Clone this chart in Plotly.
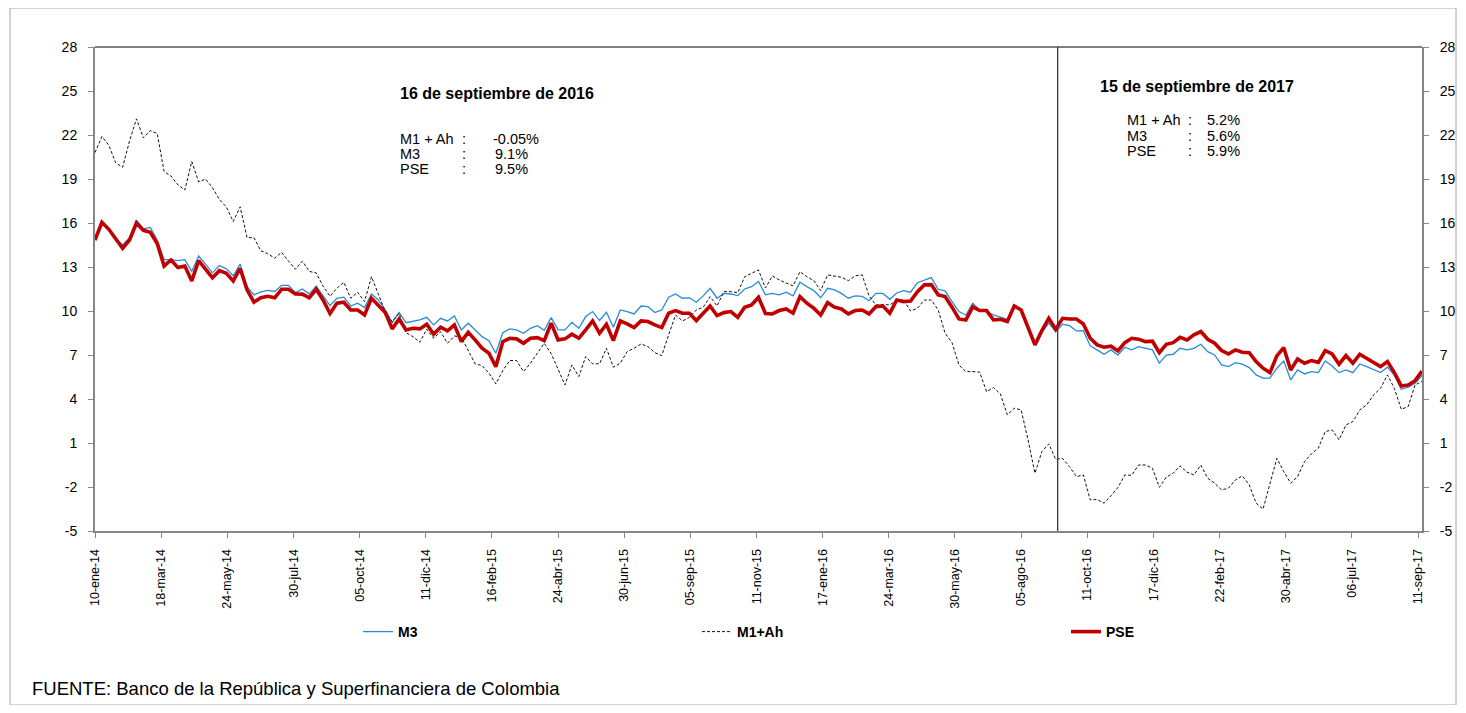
import pandas as pd
import plotly.graph_objects as go

# weekly observations, Fridays from 10-ene-2014 to 15-sep-2017
START = "2014-01-10"
END = "2017-09-15"
N_WEEKS = 193

M3 = [
    14.84, 16.0, 15.5, 14.9, 14.5, 15.0, 16.2, 15.6, 15.7, 14.84,
    13.5, 13.5, 13.43, 13.5, 12.7, 13.75, 13.2, 12.6, 13.1, 12.87,
    12.4, 13.2, 11.66, 11.1, 11.3, 11.4, 11.33, 11.75, 11.75, 11.25,
    11.5, 11.15, 11.7, 11.0, 10.37, 10.87, 10.94, 10.34, 10.53, 10.23,
    11.16, 10.75, 10.07, 9.2, 9.91, 9.2, 9.32, 9.39, 9.57, 9.05,
    9.5, 9.32, 9.66, 8.71, 9.17, 8.71, 8.25, 7.98, 7.12, 8.52,
    8.78, 8.71, 8.48, 8.82, 9.0, 8.68, 9.55, 8.71, 8.71, 9.23,
    8.82, 9.62, 9.96, 9.35, 9.91, 8.89, 10.07, 9.96, 9.8, 10.34,
    10.3, 9.89, 10.07, 10.94, 11.16, 10.87, 10.9, 10.6, 11.03, 11.55,
    10.87, 11.2, 11.16, 11.05, 11.5, 11.66, 12.02, 11.1, 11.2, 11.1,
    11.28, 11.03, 11.96, 11.66, 11.39, 10.9, 11.55, 11.44, 11.2, 10.87,
    11.03, 11.0, 10.7, 11.2, 11.2, 10.8, 11.23, 11.39, 11.28, 11.93,
    12.12, 12.28, 11.48, 11.37, 10.64, 9.96, 9.73, 10.53, 10.07, 9.98,
    9.73, 9.57, 9.43, 10.3, 10.03, 8.94, 7.8, 8.53, 9.17, 8.59,
    9.1, 9.0, 8.64, 8.66, 7.62, 7.35, 7.05, 7.35, 7.0, 7.53,
    7.35, 7.57, 7.46, 7.35, 6.44, 7.0, 7.05, 7.46, 7.35, 7.45,
    7.73, 7.23, 7.0, 6.32, 6.21, 6.48, 6.37, 6.14, 5.64, 5.42,
    5.42, 6.1, 6.6, 5.3, 5.98, 5.71, 5.87, 5.8, 6.6, 6.25,
    5.8, 5.98, 5.8, 6.39, 6.21, 6.03, 5.8, 6.17, 5.64, 4.66,
    4.8, 5.07, 5.6,
]

M1_AH = [
    20.8, 21.9, 21.3, 20.1, 19.8, 21.6, 23.1, 21.8, 22.3, 22.1,
    19.5, 19.2, 18.6, 18.25, 20.2, 18.8, 19.0, 18.4, 17.6, 17.1,
    16.1, 17.1, 15.0, 15.0, 14.1, 13.9, 13.6, 14.0, 13.4, 12.85,
    13.4, 12.7, 12.6, 11.7, 11.0, 11.55, 11.96, 10.87, 11.28, 10.64,
    12.34, 11.1, 9.96, 9.28, 9.85, 8.52, 8.25, 7.87, 8.76, 8.14,
    8.59, 7.8, 8.3, 8.21, 7.35, 6.4, 6.28, 5.76, 5.03, 5.94,
    6.62, 6.62, 5.87, 6.44, 7.12, 7.8, 7.1, 6.0, 4.96, 6.32,
    5.53, 6.89, 6.4, 6.4, 7.46, 6.17, 6.44, 7.23, 7.46, 7.75,
    7.57, 7.16, 6.96, 8.37, 9.73, 9.32, 9.57, 10.07, 10.26, 10.98,
    10.34, 11.32, 11.32, 11.25, 12.34, 12.57, 12.8, 11.57, 12.39, 12.12,
    11.93, 11.71, 12.68, 12.34, 12.07, 11.39, 12.46, 12.39, 12.3, 12.07,
    12.4, 12.46, 11.03, 10.41, 10.45, 10.41, 10.75, 10.75, 10.0, 10.19,
    10.75, 10.75, 10.07, 8.48, 7.84, 6.32, 5.87, 5.87, 5.83, 4.5,
    4.78, 4.35, 2.92, 3.37, 3.26, 1.21, -1.06, 0.41, 0.94, -0.11,
    -0.05, -0.61, -1.29, -1.18, -2.88, -2.85, -3.1, -2.6, -2.04, -1.18,
    -1.2, -0.5, -0.5, -0.72, -2.02, -1.33, -1.06, -0.56, -0.99, -1.18,
    -0.5, -1.4, -1.74, -2.2, -2.08, -1.52, -1.24, -1.86, -3.1, -3.51,
    -1.86, -0.04, -0.95, -1.74, -1.29, -0.27, 0.26, 0.64, 1.78, 1.89,
    1.21, 2.23, 2.46, 3.26, 3.6, 4.28, 4.73, 5.64, 4.73, 3.3,
    3.48, 4.96, 5.2,
]

PSE = [
    14.84, 16.05, 15.57, 14.9, 14.28, 14.84, 16.0, 15.5, 15.37, 14.6,
    13.07, 13.48, 12.96, 13.07, 12.05, 13.43, 12.87, 12.27, 12.75, 12.57,
    12.05, 12.9, 11.44, 10.6, 10.9, 11.0, 10.9, 11.48, 11.48, 11.16,
    11.15, 10.9, 11.48, 10.75, 9.83, 10.53, 10.6, 10.07, 10.07, 9.73,
    10.87, 10.4, 9.89, 8.78, 9.46, 8.71, 8.82, 8.78, 9.1, 8.42,
    8.89, 8.64, 9.05, 7.91, 8.55, 8.03, 7.46, 7.12, 6.2, 7.91,
    8.14, 8.1, 7.8, 8.14, 8.18, 7.98, 9.17, 8.03, 8.1, 8.42,
    8.14, 8.71, 9.32, 8.48, 9.1, 7.98, 9.32, 9.12, 8.87, 9.32,
    9.28, 9.05, 8.87, 9.85, 10.03, 9.85, 9.85, 9.35, 9.85, 10.34,
    9.69, 9.89, 9.96, 9.57, 10.26, 10.41, 10.94, 9.83, 9.8, 10.03,
    10.14, 9.85, 10.98, 10.53, 10.19, 9.73, 10.57, 10.26, 10.14, 9.8,
    10.03, 10.07, 9.8, 10.3, 10.34, 9.85, 10.75, 10.64, 10.68, 11.32,
    11.78, 11.8, 11.1, 10.98, 10.26, 9.46, 9.39, 10.28, 10.03, 10.03,
    9.39, 9.43, 9.28, 10.34, 10.07, 8.94, 7.69, 8.66, 9.5, 8.76,
    9.5, 9.45, 9.45, 9.12, 8.14, 7.69, 7.53, 7.6, 7.28, 7.84,
    8.14, 8.08, 7.91, 7.94, 7.16, 7.73, 7.84, 8.21, 8.03, 8.37,
    8.6, 8.07, 7.8, 7.3, 7.07, 7.35, 7.19, 7.16, 6.55, 6.1,
    5.8, 6.94, 7.5, 5.98, 6.73, 6.44, 6.62, 6.5, 7.3, 7.07,
    6.37, 6.96, 6.44, 7.05, 6.78, 6.55, 6.21, 6.55, 5.8, 4.89,
    4.96, 5.25, 5.9,
]

TICK_DATES = [
    "2014-01-10", "2014-03-18", "2014-05-24", "2014-07-30", "2014-10-05",
    "2014-12-11", "2015-02-16", "2015-04-24", "2015-06-30", "2015-09-05",
    "2015-11-11", "2016-01-17", "2016-03-24", "2016-05-30", "2016-08-05",
    "2016-10-11", "2016-12-17", "2017-02-22", "2017-04-30", "2017-07-06",
    "2017-09-11",
]
TICK_LABELS = [
    "10-ene-14", "18-mar-14", "24-may-14", "30-jul-14", "05-oct-14",
    "11-dic-14", "16-feb-15", "24-abr-15", "30-jun-15", "05-sep-15",
    "11-nov-15", "17-ene-16", "24-mar-16", "30-may-16", "05-ago-16",
    "11-oct-16", "17-dic-16", "22-feb-17", "30-abr-17", "06-jul-17",
    "11-sep-17",
]
Y_TICKS = [-5, -2, 1, 4, 7, 10, 13, 16, 19, 22, 25, 28]
Y_LABELS = ["-5", "-2", "1", "4", "7", "10", "13", "16", "19", "22", "25", "28"]

MARK_DATE = "2016-09-11"
NOTE_2016 = ("16 de septiembre de 2016", [("M1 + Ah", "-0.05%"), ("M3", "9.1%"), ("PSE", "9.5%")])
NOTE_2017 = ("15 de septiembre de 2017", [("M1 + Ah", "5.2%"), ("M3", "5.6%"), ("PSE", "5.9%")])
SOURCE = "FUENTE: Banco de la República y Superfinanciera de Colombia"

FONT = "Liberation Sans, Arial, sans-serif"
GRAY = "#868686"

# page size and the offset of the plotly div (browser body margin)
PAGE_W, PAGE_H = 1466, 713
OFF = 8
PLOT_L, PLOT_R, PLOT_T, PLOT_B = 95, 1422, 47, 531


def px_x(px):
    return (px - PLOT_L) / (PLOT_R - PLOT_L)


def px_y(py):
    return (PLOT_B - py) / (PLOT_B - PLOT_T)


dates = pd.date_range(START, periods=N_WEEKS, freq="7D")

fig = go.Figure()
fig.add_trace(go.Scatter(x=dates, y=M3, name="M3", mode="lines",
                         line=dict(color="#2A8AD8", width=1.3), legend="legend"))
fig.add_trace(go.Scatter(x=dates, y=M1_AH, name="M1+Ah", mode="lines",
                         line=dict(color="#111111", width=1, dash="3px,2px"), legend="legend2"))
fig.add_trace(go.Scatter(x=dates, y=PSE, name="PSE", mode="lines",
                         line=dict(color="#C00000", width=3.6), legend="legend3", yaxis="y2"))

yaxis_common = dict(
    range=[-5, 28], tickvals=Y_TICKS, ticktext=Y_LABELS, ticks="outside", ticklen=5,
    tickcolor=GRAY, showline=True, linecolor=GRAY, linewidth=2, showgrid=False,
    zeroline=False, tickfont=dict(size=14, color="#000000"), ticklabelstandoff=8,
)

legend_common = dict(orientation="h", yanchor="middle", xanchor="left", y=px_y(632),
                     bgcolor="rgba(0,0,0,0)", font=dict(size=14, color="#000000", weight="bold"))

annotations = []
for (title, rows), (tx, ty, labx, colx, valx, row_y, dy) in [
    (NOTE_2016, (398, 94, 398, 460, 491, 139, 15)),
    (NOTE_2017, (1098, 86, 1125, 1186, 1203, 120, 15.5)),
]:
    annotations.append(dict(text=title, x=px_x(tx), y=px_y(ty), xanchor="left", yanchor="middle",
                            font=dict(size=16, weight="bold")))
    for k, (lab, val) in enumerate(rows):
        yy = px_y(row_y + k * dy)
        annotations.append(dict(text=lab, x=px_x(labx), y=yy,
                                xanchor="left", yanchor="middle", font=dict(size=14.5)))
        annotations.append(dict(text=":", x=px_x(colx), y=yy, xanchor="left", yanchor="middle",
                                font=dict(size=14.5)))
        annotations.append(dict(text=val, x=px_x(valx + (0 if val.startswith("-") else 2)), y=yy,
                                xanchor="left", yanchor="middle", font=dict(size=14.5)))
annotations.append(dict(text=SOURCE, x=px_x(30), y=px_y(688), xanchor="left", yanchor="middle",
                        font=dict(size=18.5)))
for a in annotations:
    a.update(xref="paper", yref="paper", showarrow=False)

fig.update_layout(
    width=PAGE_W - 2 * OFF,
    height=PAGE_H - 2 * OFF,
    margin=dict(l=PLOT_L - OFF, r=PAGE_W - OFF - PLOT_R, t=PLOT_T - OFF,
                b=PAGE_H - OFF - PLOT_B, autoexpand=False),
    paper_bgcolor="#ffffff",
    plot_bgcolor="#ffffff",
    font=dict(family=FONT, color="#000000"),
    xaxis=dict(
        type="date", range=[START, END], tickvals=TICK_DATES, ticktext=TICK_LABELS,
        tickangle=-90, ticks="outside", ticklen=5, tickcolor=GRAY, showline=True,
        linecolor=GRAY, linewidth=2, showgrid=False, zeroline=False,
        tickfont=dict(size=12.5, color="#000000"), ticklabelstandoff=6,
    ),
    yaxis=yaxis_common,
    yaxis2=dict(yaxis_common, overlaying="y", side="right"),
    legend=dict(legend_common, x=px_x(358)),
    legend2=dict(legend_common, x=px_x(697)),
    legend3=dict(legend_common, x=px_x(1066)),
    annotations=annotations,
    shapes=[
        dict(type="line", xref="paper", yref="paper", x0=0, x1=1, y0=1, y1=1,
             line=dict(color="#000000", width=1)),
        dict(type="line", xref="x", yref="paper", x0=MARK_DATE, x1=MARK_DATE, y0=0, y1=1,
             line=dict(color="#3a3a3a", width=1.3)),
        dict(type="rect", xref="paper", yref="paper", x0=px_x(10), x1=px_x(1456),
             y0=px_y(705), y1=px_y(8), line=dict(color="#a6a6a6", width=1)),
    ],
    showlegend=True,
)

fig.write_html("out.html")
